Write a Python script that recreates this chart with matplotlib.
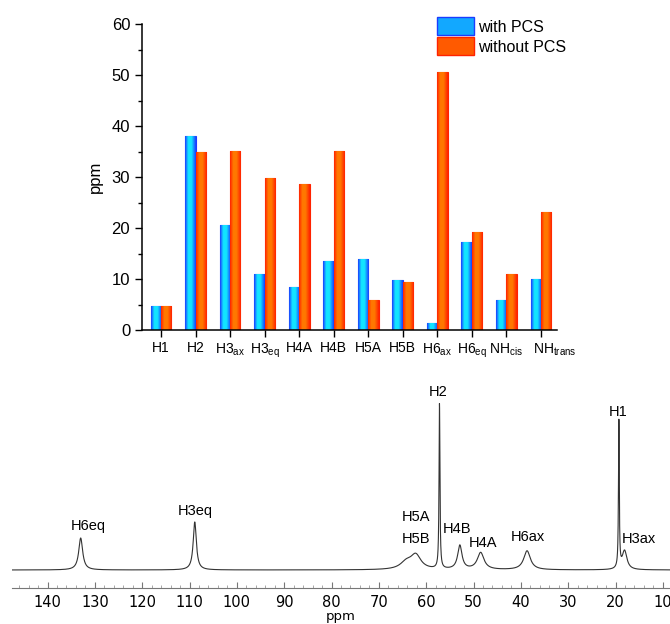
import numpy as np
import matplotlib
matplotlib.use("Agg")
import matplotlib.pyplot as plt
from matplotlib.colors import LinearSegmentedColormap
from matplotlib.patches import Patch
from matplotlib.transforms import ScaledTranslation

plt.rcParams["font.family"] = ["Liberation Sans", "DejaVu Sans"]
plt.rcParams["mathtext.fontset"] = "custom"
plt.rcParams["mathtext.rm"] = "Liberation Sans"

# bar chart data
protons = ["H1", "H2", r"H3$_\mathrm{ax}$", r"H3$_\mathrm{eq}$", "H4A", "H4B",
           "H5A", "H5B", r"H6$_\mathrm{ax}$", r"H6$_\mathrm{eq}$",
           r"NH$_\mathrm{cis}$", r"NH$_\mathrm{trans}$"]
with_pcs = [4.7, 38.0, 20.7, 11.0, 8.5, 13.5, 13.9, 9.9, 1.4, 17.2, 5.9, 10.0]
without_pcs = [4.8, 35.0, 35.2, 29.9, 28.6, 35.1, 5.9, 9.35, 50.6, 19.3, 10.9, 23.1]

# spectrum peaks: shift (ppm), height, FWHM (ppm)
peak_ppm = [133.0, 108.9, 64.2, 62.2, 57.2, 52.9, 48.5, 38.7, 19.3, 18.1]
peak_height = [32, 48, 7, 14, 165, 24, 17, 19, 147, 19]
peak_fwhm = [1.0, 0.8, 3.0, 2.6, 0.22, 1.1, 1.7, 1.7, 0.2, 1.2]

peak_labels = ["H6eq", "H3eq", "H5A\n\nH5B", "H2", "H4B", "H4A", "H6ax", "H1", "H3ax"]
label_ppm = [131.3, 108.7, 62.1, 57.4, 53.4, 48.0, 38.5, 19.4, 15.05]
label_y = [44, 59, 42, 178, 41, 27, 33, 158, 31.5]


def gradient_bars(ax, x, h, w, c_edge, c_mid):
    cmap = LinearSegmentedColormap.from_list(
        "g", [(0, c_edge), (0.3, c_mid), (0.6, c_mid), (1, c_edge)])
    bars = ax.bar(x, h, w, color=c_mid, edgecolor=c_edge, linewidth=0.8, zorder=2)
    grad = np.linspace(0, 1, 64).reshape(1, -1)
    for b in bars:
        im = ax.imshow(grad, cmap=cmap, aspect="auto", zorder=2.5,
                       extent=[b.get_x(), b.get_x() + b.get_width(), 0, b.get_height()])
        im.set_clip_path(b)
    return bars


fig = plt.figure(figsize=(6.7, 6.24), dpi=100)

# --- top: bar chart ---
ax = fig.add_axes([0.212, 0.471, 0.619, 0.4905])
x = np.arange(len(protons))
gradient_bars(ax, x - 0.15, with_pcs, 0.3, "#1a3cff", "#12e4ff")
gradient_bars(ax, x + 0.15, without_pcs, 0.3, "#ff2200", "#ff7800")
ax.set_xlim(-0.55, 11.46)
ax.set_ylim(0, 60)
ax.set_yticks(range(0, 61, 10))
ax.set_yticks(range(5, 60, 10), minor=True)
ax.set_xticks(x)
ax.set_xticklabels(protons, fontsize=10)
ax.tick_params(axis="y", labelsize=12, length=5, width=1, direction="out")
ax.tick_params(axis="y", which="minor", length=3, width=1)
ax.tick_params(axis="x", length=5, width=1, direction="out", pad=3)
# the last label sits to the right of its tick, as in the original
last = ax.get_xticklabels()[-1]
last.set_transform(last.get_transform() + ScaledTranslation(0.14, 0, fig.dpi_scale_trans))
for s in ["top", "right"]:
    ax.spines[s].set_visible(False)
for s in ["left", "bottom"]:
    ax.spines[s].set_linewidth(1.1)
ax.set_ylabel("ppm", fontsize=12, labelpad=6)

handles = [Patch(facecolor="#12a8ff", edgecolor="#1a3cff", label="with PCS"),
           Patch(facecolor="#ff5a00", edgecolor="#ff2200", label="without PCS")]
fig.legend(handles=handles, loc="upper left", bbox_to_anchor=(0.652, 0.972),
           frameon=False, fontsize=11.5, handlelength=2.3, handleheight=1.35,
           handletextpad=0.3, labelspacing=0.12, borderpad=0, borderaxespad=0)

# --- bottom: 1H spectrum ---
sx = fig.add_axes([0.018, 0.0577, 0.982, 0.3333])
ppm = np.linspace(147.5, 8.5, 6000)
spec = np.zeros_like(ppm)
for c, h, w in zip(peak_ppm, peak_height, peak_fwhm):
    hw = w / 2
    spec += h * hw ** 2 / ((ppm - c) ** 2 + hw ** 2)
sx.plot(ppm, spec, color="#333333", lw=0.8)
for lab, px, py in zip(peak_labels, label_ppm, label_y):
    sx.text(px, py, lab, ha="center", va="center", fontsize=10.5,
            linespacing=0.95 if "\n" not in lab else 0.72)
sx.set_xlim(147.5, 8.5)
sx.set_ylim(-18, 190)
sx.set_xticks(range(140, 9, -10))
sx.set_xticks(range(146, 9, -2), minor=True)
for s in ["top", "right", "left"]:
    sx.spines[s].set_visible(False)
sx.spines["bottom"].set_color("#777777")
sx.spines["bottom"].set_linewidth(0.8)
sx.set_yticks([])
sx.tick_params(axis="x", direction="in", length=4, width=0.8, color="#777777",
               labelsize=10.5, pad=5)
sx.tick_params(axis="x", which="minor", direction="in", length=2.5, width=0.6,
               color="#999999")
for t in sx.get_xticklabels():
    t.set_fontfamily("DejaVu Sans")
sx.set_xlabel("ppm", fontsize=9.5, labelpad=0, family="DejaVu Sans")

fig.savefig("out.png", dpi=100)
